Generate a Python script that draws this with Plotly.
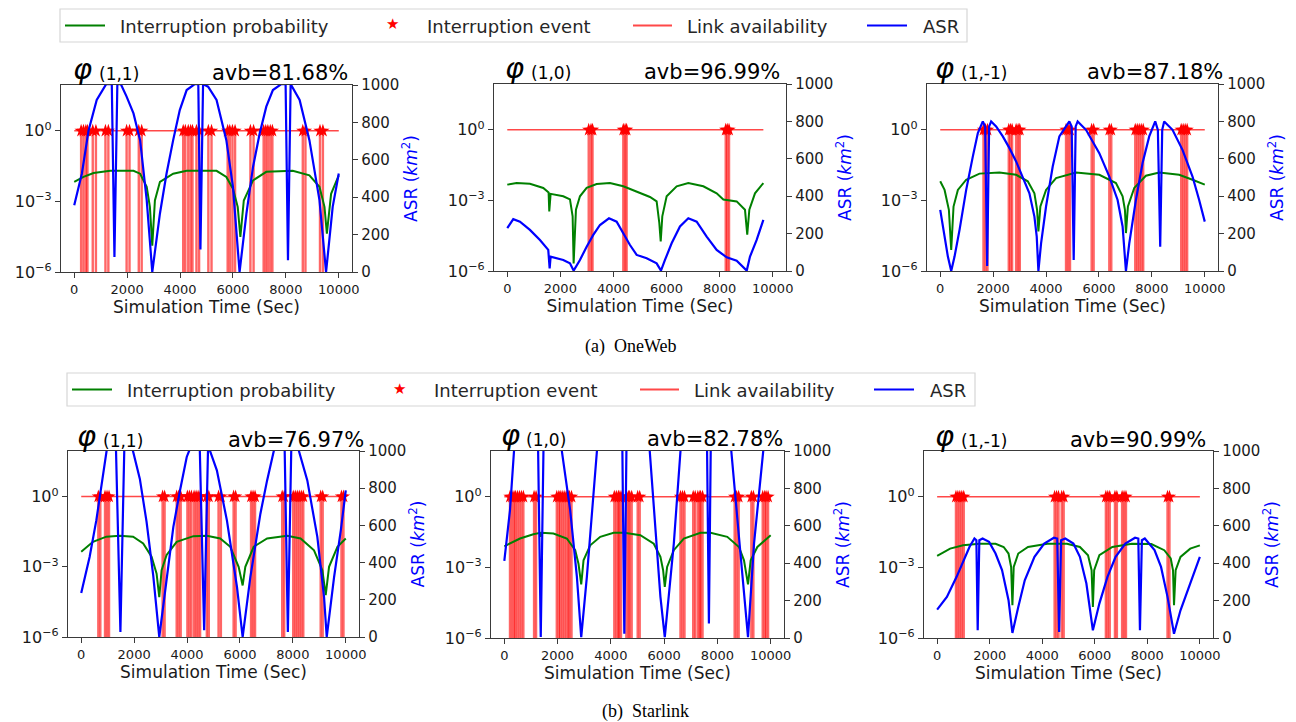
import plotly.graph_objects as go

W, H = 1296, 722

# ------------------------------------------------------------------ data
panel_labels = ["(1,1)", "(1,0)", "(1,-1)", "(1,1)", "(1,0)", "(1,-1)"]
avb_values = [81.68, 96.99, 87.18, 76.97, 82.78, 90.99]
link_level = 1.0
x_ticks = [0, 2000, 4000, 6000, 8000, 10000]
asr_ticks = [0, 200, 400, 600, 800, 1000]
prob_ticks = [1e-6, 1e-3, 1.0]
prob_ticktext = ["10<sup>\u22126</sup>", "10<sup>\u22123</sup>", "10<sup>0</sup>"]

# --- OneWeb phi(1,1)
ow11_prob_t = [0, 350, 730, 1360, 2240, 2490, 2740, 2860, 2950, 3050, 3240, 3740, 4250, 5380, 5750,
               6000, 6180, 6280, 6410, 6760, 7260, 8260, 8890, 9270, 9460, 9550, 9710, 10000]
ow11_prob = [0.0068, 0.011, 0.0162, 0.02, 0.02, 0.0151, 0.0042, 0.00059, 1.3e-5, 0.0011, 0.0068, 0.0151,
             0.02, 0.02, 0.011, 0.0035, 0.00059, 3.1e-5, 0.0011, 0.0079, 0.0182, 0.02, 0.0129, 0.0042,
             0.00059, 4.3e-5, 0.0021, 0.0129]
ow11_asr_t = [0, 290, 540, 850, 1210, 1420, 1520, 1630, 1760, 1980, 2240, 2490, 2740, 2950, 3240, 3490,
              3740, 3990, 4250, 4560, 4690, 4770, 4870, 5060, 5380, 5750, 6000, 6250, 6510, 6760, 7010,
              7260, 7510, 7830, 7990, 8080, 8180, 8520, 8890, 9270, 9520, 9770, 10000]
ow11_asr = [357, 527, 755, 920, 1005, 1005, 80, 1005, 1005, 938, 848, 705, 384, 0, 313, 527, 705, 866,
            973, 1005, 1005, 120, 1005, 991, 920, 705, 455, 0, 313, 563, 741, 884, 973, 1005, 1005, 63,
            1005, 920, 705, 384, 0, 348, 527]
ow11_events = [260, 350, 440, 500, 700, 820, 1180, 1290, 1980, 2090, 2440, 2550, 4120, 4200, 4310, 4400,
               4470, 4620, 4720, 5070, 5190, 5800, 5880, 5980, 6080, 6660, 6780, 7160, 7240, 7320, 7410,
               7490, 8640, 8740, 9290, 9400]

# --- OneWeb phi(1,0)
ow10_prob_t = [0, 352, 854, 1356, 1557, 1582, 1633, 2110, 2362, 2462, 2500, 2587, 2738, 2990, 3366, 3868,
               4371, 4874, 5376, 5627, 5727, 5780, 5840, 6004, 6381, 6820, 7386, 7888, 8139, 8642, 8955,
               9040, 9119, 9332, 9647]
ow10_prob = [0.0047, 0.0055, 0.0051, 0.0034, 0.0022, 0.00034, 0.0019, 0.0015, 0.0011, 0.00021, 2.1e-6,
             0.0004, 0.0015, 0.0034, 0.005, 0.0055, 0.004, 0.0024, 0.0014, 0.00091, 0.00011, 1.8e-5,
             0.00021, 0.0015, 0.004, 0.0055, 0.004, 0.002, 0.0011, 0.00091, 0.0004, 3.5e-5, 0.0004,
             0.002, 0.0055]
ow10_asr_t = [0, 226, 478, 854, 1231, 1544, 1596, 1633, 2110, 2362, 2500, 2738, 2990, 3240, 3492, 3831,
              4120, 4371, 4622, 4874, 5250, 5627, 5790, 5941, 6192, 6506, 6820, 7135, 7511, 7888, 8265,
              8642, 9020, 9144, 9395, 9647]
ow10_asr = [229, 277, 264, 220, 166, 113, 14, 77, 59, 41, 2, 59, 130, 193, 246, 282, 264, 202, 139, 86,
            68, 41, 2, 59, 148, 238, 282, 264, 184, 113, 73, 55, 2, 77, 166, 273]
ow10_events = [3068, 3155, 3212, 4370, 4438, 4496, 8229, 8287, 8354]

# --- OneWeb phi(1,-1)
ow1m_prob_t = [0, 164, 327, 415, 503, 667, 981, 1484, 2239, 2868, 3309, 3560, 3661, 3711, 3786, 4000,
               4378, 5133, 6013, 6642, 6894, 6982, 7020, 7095, 7334, 7774, 8278, 9032, 9536, 10000]
ow1m_prob = [0.0065, 0.0028, 0.0004, 7.9e-6, 0.00055, 0.0028, 0.0076, 0.0138, 0.0155, 0.0123, 0.0065,
             0.002, 0.0004, 4.8e-5, 0.00055, 0.0028, 0.0089, 0.0155, 0.0123, 0.0055, 0.0015, 0.0004,
             4.1e-5, 0.00055, 0.0034, 0.0112, 0.0155, 0.0123, 0.0076, 0.0047]
ow1m_asr_t = [0, 164, 289, 415, 541, 730, 981, 1233, 1422, 1610, 1698, 1774, 1849, 1925, 2113, 2365, 2617,
              2868, 3120, 3371, 3560, 3648, 3711, 3812, 4000, 4252, 4504, 4881, 4969, 5045, 5120, 5195,
              5510, 6013, 6391, 6705, 6894, 7020, 7146, 7397, 7649, 7901, 8127, 8227, 8315, 8391, 8466,
              8781, 9158, 9536, 9788, 10000]
ow1m_asr = [327, 184, 77, 0, 77, 220, 434, 613, 738, 800, 773, 27, 773, 800, 773, 720, 657, 586, 505, 416,
            291, 184, 0, 148, 345, 559, 720, 800, 773, 59, 773, 800, 755, 630, 505, 380, 238, 0, 148, 380,
            577, 720, 800, 755, 130, 755, 800, 755, 648, 505, 380, 264]
ow1m_events = [1635, 1711, 1786, 2591, 2654, 2717, 2868, 2944, 3007, 4755, 4831, 4906, 5724, 5799, 6391,
               6466, 7372, 7447, 7522, 7598, 7673, 9108, 9183, 9259, 9334]

# --- Starlink phi(1,1)
sl11_prob_t = [0, 443, 950, 1456, 1962, 2342, 2659, 2849, 2950, 3038, 3228, 3608, 4241, 4748, 5254, 5634,
               5950, 6102, 6203, 6520, 7026, 7786, 8292, 8799, 9115, 9242, 9368, 9685, 10000]
sl11_prob = [0.0044, 0.0117, 0.0195, 0.0214, 0.0195, 0.01, 0.0027, 0.00051, 5.1e-5, 0.00072, 0.0032,
             0.0117, 0.0204, 0.0214, 0.0162, 0.0072, 0.001, 0.00016, 0.001, 0.0072, 0.0162, 0.0214,
             0.0162, 0.0051, 0.00072, 6.2e-5, 0.001, 0.0072, 0.0162]
sl11_asr_t = [0, 317, 570, 823, 1000, 1200, 1300, 1481, 1640, 1800, 1962, 2216, 2469, 2722, 2950, 3228,
              3481, 3735, 3988, 4300, 4470, 4646, 4800, 4870, 5127, 5507, 5887, 6102, 6393, 6773, 7026,
              7279, 7550, 7680, 7811, 7950, 8100, 8229, 8546, 8925, 9179, 9280, 9558, 9812, 10000]
sl11_asr = [237, 430, 627, 860, 1040, 1100, 1090, 27, 1090, 1090, 1000, 850, 620, 330, 0, 322, 591, 789,
            968, 1080, 1080, 36, 1060, 1000, 896, 627, 269, 0, 322, 663, 842, 1000, 1090, 1090, 27, 1090,
            1080, 1000, 842, 538, 215, 0, 322, 573, 788]
sl11_events = [646, 722, 899, 975, 1051, 3076, 3152, 3608, 3684, 3760, 4013, 4089, 4165, 4266, 4342, 4418,
               4494, 4748, 4823, 5191, 5279, 5760, 5836, 6419, 6495, 6571, 7596, 7672, 8014, 8090, 8166,
               8242, 8318, 8394, 9052, 9128, 9837, 9913]

# --- Starlink phi(1,0)
sl10_prob_t = [0, 590, 1092, 1343, 1368, 1406, 1845, 2347, 2661, 2786, 2887, 2974, 3225, 3602, 4104, 4505,
               5108, 5610, 5861, 5962, 6024, 6112, 6363, 6739, 7367, 7743, 8371, 8810, 8998, 9149, 9249,
               9500, 10000]
sl10_prob = [0.0079, 0.017, 0.0257, 0.0295, 0.02, 0.0295, 0.0275, 0.017, 0.0054, 0.0014, 0.00019, 0.002,
             0.0087, 0.02, 0.0295, 0.0295, 0.0234, 0.0102, 0.0028, 0.00076, 0.00015, 0.00105, 0.0054,
             0.017, 0.0295, 0.0295, 0.02, 0.0074, 0.002, 0.00019, 0.002, 0.0074, 0.0234]
sl10_asr_t = [0, 213, 364, 700, 1000, 1200, 1368, 1540, 1800, 2159, 2472, 2723, 2887, 3099, 3288, 3477,
              3800, 4200, 4380, 4505, 4640, 5000, 5459, 5735, 5861, 6024, 6363, 6614, 7000, 7400, 7560,
              7681, 7800, 8100, 8521, 8835, 9149, 9375, 9726, 10000]
sl10_asr = [413, 684, 1000, 1450, 1650, 1700, 5, 1700, 1600, 1000, 684, 330, 5, 327, 684, 1000, 1450,
            1680, 1700, 23, 1700, 1600, 1000, 470, 220, 5, 505, 1000, 1550, 1700, 1700, 77, 1700, 1550,
            1000, 500, 5, 505, 1000, 1400]
sl10_events = [213, 289, 364, 414, 489, 565, 640, 715, 1117, 1192, 1970, 2046, 2096, 2171, 2246, 2322,
               2397, 2447, 2523, 4129, 4204, 4280, 4305, 4380, 4581, 4656, 4706, 4782, 5007, 5083, 6614,
               6689, 6764, 7091, 7166, 7266, 7342, 7367, 7442, 8647, 8722, 8798, 9274, 9350, 9701, 9776,
               9827, 9902]

# --- Starlink phi(1,-1)
sl1m_prob_t = [0, 494, 988, 1606, 2223, 2532, 2717, 2816, 2865, 2915, 3088, 3458, 4199, 4940, 5434, 5743,
               5879, 5928, 5977, 6175, 6669, 7410, 8151, 8645, 8892, 8978, 9016, 9078, 9263, 9633, 10000]
sl1m_prob = [0.0031, 0.0063, 0.0087, 0.0102, 0.0102, 0.0074, 0.0039, 0.00105, 2.5e-5, 0.00105, 0.0039,
             0.0074, 0.0102, 0.0102, 0.0074, 0.0033, 0.00076, 2.1e-5, 0.00076, 0.0033, 0.0074, 0.0102,
             0.0098, 0.0054, 0.0024, 0.00076, 2.5e-5, 0.00076, 0.0028, 0.0063, 0.0087]
sl1m_asr_t = [0, 371, 741, 988, 1235, 1420, 1494, 1544, 1606, 1729, 1976, 2223, 2470, 2717, 2865, 3088,
              3335, 3705, 4076, 4446, 4570, 4644, 4718, 4878, 5187, 5434, 5681, 5928, 6175, 6484, 6793,
              7163, 7534, 7657, 7719, 7793, 7904, 8274, 8522, 8769, 9016, 9263, 9633, 10000]
sl1m_asr = [152, 220, 327, 407, 488, 532, 523, 41, 523, 532, 514, 452, 363, 202, 27, 166, 309, 434, 505,
            536, 532, 32, 523, 532, 505, 434, 291, 41, 184, 327, 434, 505, 536, 532, 41, 523, 532, 470, 380,
            220, 23, 148, 291, 434]
sl1m_events = [716, 790, 864, 939, 1013, 4471, 4545, 4619, 4742, 4817, 6422, 6496, 6570, 6768, 6842, 7040,
               7114, 7188, 8769, 8843]

panels_data = [
    (ow11_prob_t, ow11_prob, ow11_asr_t, ow11_asr, ow11_events),
    (ow10_prob_t, ow10_prob, ow10_asr_t, ow10_asr, ow10_events),
    (ow1m_prob_t, ow1m_prob, ow1m_asr_t, ow1m_asr, ow1m_events),
    (sl11_prob_t, sl11_prob, sl11_asr_t, sl11_asr, sl11_events),
    (sl10_prob_t, sl10_prob, sl10_asr_t, sl10_asr, sl10_events),
    (sl1m_prob_t, sl1m_prob, sl1m_asr_t, sl1m_asr, sl1m_events),
]

# ------------------------------------------------------------------ layout geometry (pixels)
boxes = [  # left, right, top, bottom
    (61, 352, 85, 272), (494, 786, 84, 271), (927, 1218, 84, 271),
    (68, 359, 451, 637), (491, 784, 451, 638), (924, 1213, 451, 638),
]
title_pos = [  # phi-left, label-left, avb-right, y-centre
    (71, 97, 350, 72), (503, 529, 782, 71), (933, 959, 1225, 71),
    (75, 101, 366, 439), (499, 524, 785, 438), (933, 959, 1208, 439),
]
LOG_RANGE = [-6, 1.95]
X_RANGE = [-500, 10500]
AX = "#3a3a3a"
FONT = "DejaVu Sans"

fig = go.Figure()
layout = dict(
    width=W, height=H, margin=dict(l=0, r=0, t=0, b=0, pad=0, autoexpand=False), autosize=False,
    paper_bgcolor="white", plot_bgcolor="white", showlegend=False,
    font=dict(family=FONT, color="#1a1a1a"),
)
annotations = []
shapes = []

for i, (pt, pv, at, av, ev) in enumerate(panels_data):
    n = i + 1
    xa, ya, yr = f"x{n}", f"y{n}", f"y{n + 6}"
    l, r, t, b = boxes[i]
    # stems of interruption events
    sx, sy = [], []
    for e in ev:
        sx += [e, e, None]
        sy += [link_level, 10 ** (LOG_RANGE[0] - 1), None]
    fig.add_trace(go.Scatter(x=sx, y=sy, mode="lines", xaxis=xa, yaxis=ya,
                             line=dict(color="rgba(255,0,0,0.6)", width=2.4), hoverinfo="skip"))
    # link availability
    fig.add_trace(go.Scatter(x=[pt[0], pt[-1]], y=[link_level, link_level], mode="lines",
                             xaxis=xa, yaxis=ya, line=dict(color="rgba(255,40,40,0.85)", width=1.5)))
    # interruption events (stars)
    fig.add_trace(go.Scatter(x=ev, y=[link_level] * len(ev), mode="markers", xaxis=xa, yaxis=ya,
                             marker=dict(symbol="star", color="red", size=10, line=dict(width=0))))
    # interruption probability
    fig.add_trace(go.Scatter(x=pt, y=pv, mode="lines", xaxis=xa, yaxis=ya,
                             line=dict(color="green", width=2)))
    # ASR
    fig.add_trace(go.Scatter(x=at, y=av, mode="lines", xaxis=xa, yaxis=yr,
                             line=dict(color="blue", width=2.2)))

    xkey = "xaxis" if n == 1 else f"xaxis{n}"
    ykey = "yaxis" if n == 1 else f"yaxis{n}"
    layout[xkey] = dict(
        domain=[l / W, r / W], anchor=ya, range=X_RANGE, tickvals=x_ticks,
        ticktext=[str(v) for v in x_ticks], automargin=False,
        ticks="outside", ticklen=5, tickcolor=AX, showline=True, linecolor=AX, linewidth=1.3,
        mirror=True, showgrid=False, zeroline=False, tickfont=dict(size=13),
        title=dict(text="Simulation Time (Sec)", font=dict(size=17), standoff=3),
    )
    layout[ykey] = dict(
        domain=[1 - b / H, 1 - t / H], anchor=xa, type="log", range=LOG_RANGE, automargin=False,
        tickvals=prob_ticks, ticktext=prob_ticktext, ticks="outside", ticklen=5, tickcolor=AX,
        showline=True, linecolor=AX, linewidth=1.3, showgrid=False, zeroline=False,
        tickfont=dict(size=16),
    )
    layout[f"yaxis{n + 6}"] = dict(
        overlaying=ya, anchor=xa, side="right", range=[0, 1000], tickvals=asr_ticks,
        ticktext=[str(v) for v in asr_ticks], automargin=False,
        ticks="outside", ticklen=5, tickcolor=AX, showline=True, linecolor=AX, linewidth=1.3,
        showgrid=False, zeroline=False, tickfont=dict(size=15),
        title=dict(text="ASR (<i>km</i><sup>2</sup>)", font=dict(size=17, color="blue"), standoff=6),
    )
    px_phi, px_lab, px_avb, py = title_pos[i]
    annotations += [
        dict(text="<i>\u03c6</i>", x=px_phi / W, y=1 - (py - 3) / H, xref="paper", yref="paper",
             xanchor="left", yanchor="middle", showarrow=False, font=dict(size=29, color="black")),
        dict(text=panel_labels[i], x=px_lab / W, y=1 - (py + 2) / H, xref="paper", yref="paper",
             xanchor="left", yanchor="middle", showarrow=False, font=dict(size=17, color="black")),
        dict(text=f"avb={avb_values[i]:.2f}%", x=px_avb / W, y=1 - (py + 1) / H, xref="paper",
             yref="paper", xanchor="right", yanchor="middle", showarrow=False,
             font=dict(size=21, color="black")),
    ]

# ------------------------------------------------------------------ legends (one per row)
legend_rows = [(60, 967, 9, 42, 0), (67, 975, 373, 406, 7)]
legend_items = [
    ("Interruption probability", "line", "green", 65, 105, 118),
    ("Interruption event", "star", "red", 392, 392, 425),
    ("Link availability", "line", "rgba(255,40,40,0.85)", 633, 672, 685),
    ("ASR", "line", "blue", 867, 907, 921),
]
for (lx0, lx1, ly0, ly1, dx) in legend_rows:
    shapes.append(dict(type="rect", xref="paper", yref="paper", x0=lx0 / W, x1=lx1 / W,
                       y0=1 - ly1 / H, y1=1 - ly0 / H, line=dict(color="#d6d6d6", width=1.2),
                       fillcolor="white", layer="below"))
    yc = (ly0 + ly1) / 2
    for text, kind, col, s0, s1, tx in legend_items:
        if kind == "line":
            shapes.append(dict(type="line", xref="paper", yref="paper", x0=(s0 + dx) / W,
                               x1=(s1 + dx) / W, y0=1 - yc / H, y1=1 - yc / H,
                               line=dict(color=col, width=2.2)))
        else:
            annotations.append(dict(text="\u2605", x=(s0 + dx) / W, y=1 - (yc - 1) / H,
                                    xref="paper", yref="paper", xanchor="center", yanchor="middle",
                                    showarrow=False, font=dict(size=15, color=col)))
        annotations.append(dict(text=text, x=(tx + dx) / W, y=1 - (yc + 1) / H, xref="paper",
                                yref="paper", xanchor="left", yanchor="middle", showarrow=False,
                                font=dict(size=18, color="#262626")))

# captions
annotations += [
    dict(text="(a)  OneWeb", x=631 / W, y=1 - 346 / H, xref="paper", yref="paper",
         xanchor="center", yanchor="middle", showarrow=False,
         font=dict(family="Liberation Serif", size=18, color="black")),
    dict(text="(b)  Starlink", x=645 / W, y=1 - 711 / H, xref="paper", yref="paper",
         xanchor="center", yanchor="middle", showarrow=False,
         font=dict(family="Liberation Serif", size=18, color="black")),
]

layout["annotations"] = annotations
layout["shapes"] = shapes
fig.update_layout(**layout)
fig.write_html("out.html")
